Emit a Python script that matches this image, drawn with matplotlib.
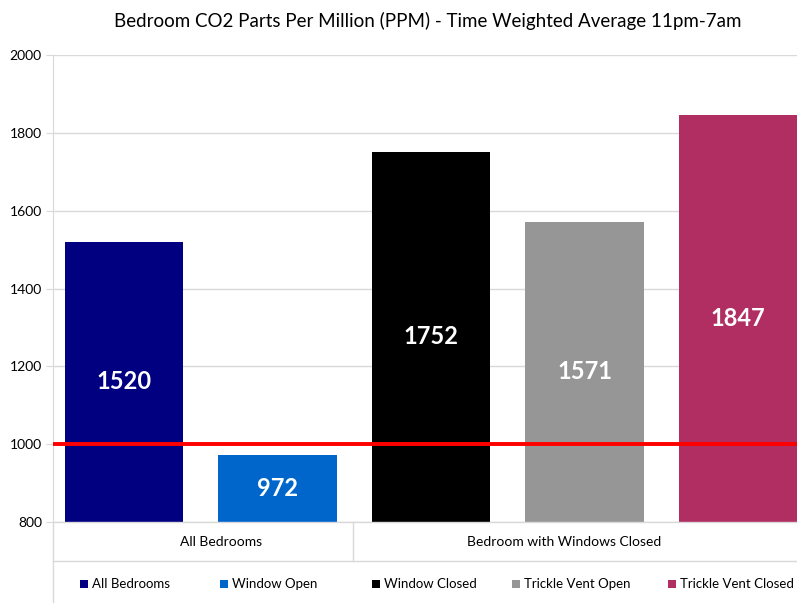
import matplotlib.pyplot as plt
from matplotlib.patches import Rectangle
import numpy as np

# Daten
serien = ["All Bedrooms", "Window Open", "Window Closed", "Trickle Vent Open", "Trickle Vent Closed"]
werte = [1520, 972, 1752, 1571, 1847]
farben = ["#000080", "#0066CC", "#000000", "#969696", "#B02E62"]
gruppen = ["All Bedrooms", "Bedroom with Windows Closed"]
gruppen_x = [0.63, 2.87]
yticks = [800, 1000, 1200, 1400, 1600, 1800, 2000]
grenzwert = 1000

plt.rcParams['font.family'] = ['Lato', 'DejaVu Sans']

W, H = 797, 603
fig = plt.figure(figsize=(W / 100, H / 100), dpi=100)
# Achse in Pixeln: links 53, oben 55, unten 522
ax = fig.add_axes([53 / W, (H - 522) / H, 1 - 53 / W, (522 - 55) / H])

x = np.arange(len(werte))
ax.bar(x, np.array(werte) - 800, bottom=800, width=0.77, color=farben, zorder=2)
for xi, w in zip(x, werte):
    ax.text(xi, (800 + w) / 2, str(w), ha="center", va="center",
            color="white", fontsize=17, fontweight="bold", zorder=3)

ax.axhline(grenzwert, color="#FF0000", lw=2.8, zorder=4)

ax.set_ylim(800, 2000)
ax.set_xlim(-0.4625, 4.384)
ax.set_yticks(yticks)
ax.set_xticks([])
ax.grid(axis="y", color="#D9D9D9", lw=1, zorder=0)
for s in ["top", "right", "bottom"]:
    ax.spines[s].set_visible(False)
ax.spines["left"].set_color("#D9D9D9")
ax.tick_params(axis="y", length=5, color="#D9D9D9", labelsize=10, pad=3)

# Kategorie-Zeile unter der Achse
yb = -(561 - 522) / (522 - 55)
yl = -(603 - 522) / (522 - 55)
ax.plot([0, 1], [0, 0], transform=ax.transAxes, color="#D9D9D9", lw=1, clip_on=False)
ax.plot([0, 1], [yb, yb], transform=ax.transAxes, color="#D9D9D9", lw=1, clip_on=False)
ax.plot([0, 0], [0, yl], transform=ax.transAxes, color="#D9D9D9", lw=1, clip_on=False)
xd = (353 - 53) / (W - 53)
ax.plot([xd, xd], [0, yb], transform=ax.transAxes, color="#D9D9D9", lw=1, clip_on=False)
for gx, g in zip(gruppen_x, gruppen):
    ax.text(gx, yb / 2, g, transform=ax.get_xaxis_transform(), ha="center", va="center", fontsize=10)

fig.text(428 / W, 1 - 21 / H,
         "Bedroom CO2 Parts Per Million (PPM) - Time Weighted Average 11pm-7am",
         ha="center", va="center", fontsize=13.5)

# Legende von Hand (Positionen in Pixeln)
leg_x = [80, 220, 372, 512, 668]
for lx, c, s in zip(leg_x, farben, serien):
    fig.patches.append(Rectangle((lx / W, 1 - 588 / H), 8 / W, 8 / H,
                                 transform=fig.transFigure, facecolor=c, edgecolor="none"))
    fig.text((lx + 12) / W, 1 - 584 / H, s, ha="left", va="center", fontsize=9.5)

fig.savefig("out.png", dpi=100)
